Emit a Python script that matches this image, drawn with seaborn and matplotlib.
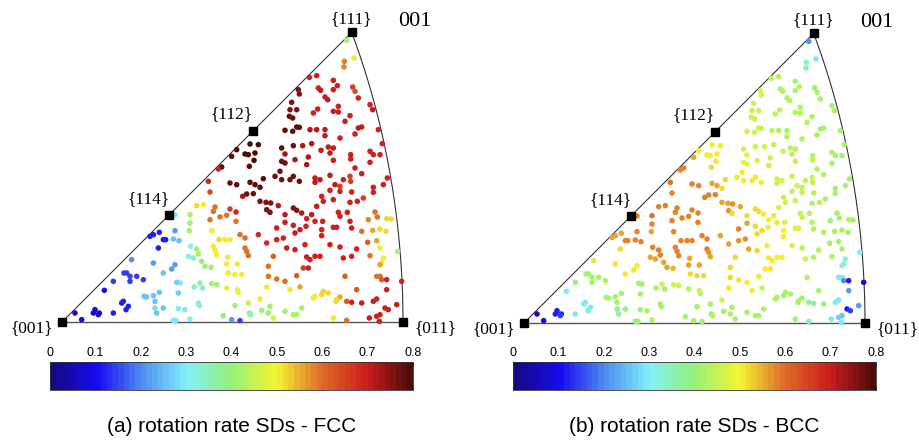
import numpy as np
import matplotlib
matplotlib.use("Agg")
import matplotlib.pyplot as plt
import seaborn as sns

# grain positions (reader units, origin at {001},
# 1023 units = distance {001}-{011}); y counts downwards like the image
ORIGIN_X, ORIGIN_Y, SPAN = 186, 967, 1023

x_read = [
    1040, 1062, 1033, 1032, 950, 928, 1000, 1012, 955, 962,
    1000, 1058, 1065, 895, 898, 975, 1075, 983, 875, 1110,
    1015, 953, 870, 890, 1000, 1118, 940, 1015, 1050, 868,
    878, 1085, 1075, 1035, 890, 898, 855, 878, 930, 950,
    975, 975, 1020, 1065, 1135, 775, 750, 845, 880, 908,
    935, 985, 1000, 1147, 710, 745, 765, 735, 762, 695,
    855, 1110, 1052, 1052, 1120, 1140, 963, 990, 925, 885,
    845, 855, 1000, 920, 1110, 665, 655, 748, 840, 1065,
    1085, 825, 845, 870, 898, 880, 945, 960, 990, 1050,
    1052, 1162, 1030, 625, 690, 710, 750, 765, 790, 780,
    945, 1005, 1020, 1150, 1120, 630, 728, 760, 740, 965,
    990, 1020, 1055, 1120, 1090, 1072, 1050, 970, 1000, 780,
    798, 812, 835, 800, 810, 880, 890, 905, 935, 950,
    1015, 1042, 1125, 1132, 1160, 1173, 855, 590, 610, 645,
    640, 690, 708, 570, 630, 660, 680, 525, 570, 568,
    525, 478, 460, 450, 490, 497, 520, 537, 708, 635,
    775, 800, 830, 855, 880, 900, 885, 918, 920, 945,
    968, 965, 1000, 1010, 1020, 1050, 1055, 1085, 1105, 1118,
    1140, 1158, 850, 830, 860, 885, 915, 965, 990, 1020,
    1070, 1103, 1130, 1140, 1193, 720, 735, 657, 675, 690,
    640, 645, 650, 735, 740, 745, 590, 572, 595, 580,
    565, 605, 615, 633, 475, 395, 460, 525, 515, 490,
    683, 680, 712, 725, 705, 685, 820, 920, 945, 960,
    930, 910, 925, 1030, 1055, 1110, 1150, 1145, 1140, 805,
    805, 830, 855, 890, 1035, 1130, 1140, 1145, 1160, 1205,
    1070, 1160, 1040, 1055, 1085, 1130, 1120, 1190, 1155, 1165,
    1140, 1130, 1108, 1138, 1040, 1000, 1020, 1010, 1008, 985,
    970, 965, 940, 900, 870, 800, 780, 745, 715, 712,
    680, 650, 635, 600, 582, 608, 540, 530, 430, 410,
    380, 390, 372, 340, 390, 313, 478, 460, 440, 432,
    465, 535, 370, 365, 385, 378, 340, 298, 285, 280,
    295, 225, 245, 465, 470, 490, 535, 555, 595, 598,
    570, 520, 528, 695, 720, 670, 705, 748, 752, 785,
    805, 810, 820, 855, 880, 890, 905, 945,
]
y_read = [
    122, 175, 185, 202, 228, 233, 242, 258, 265, 272,
    270, 262, 275, 270, 283, 292, 295, 300, 308, 315,
    320, 328, 330, 330, 335, 330, 340, 337, 348, 350,
    355, 382, 385, 365, 382, 383, 392, 395, 390, 390,
    390, 408, 415, 403, 390, 435, 433, 445, 438, 438,
    432, 442, 445, 432, 450, 465, 460, 463, 482, 470,
    463, 455, 465, 478, 465, 465, 452, 460, 472, 480,
    485, 490, 482, 495, 488, 502, 508, 500, 515, 505,
    522, 530, 540, 540, 545, 530, 535, 540, 527, 530,
    545, 535, 540, 545, 550, 555, 548, 555, 537, 563,
    548, 555, 560, 555, 563, 577, 590, 582, 583, 590,
    572, 575, 577, 578, 595, 605, 608, 605, 600, 605,
    608, 610, 618, 630, 638, 625, 632, 640, 645, 620,
    638, 638, 637, 652, 657, 658, 645, 618, 615, 622,
    635, 628, 637, 645, 660, 652, 647, 646, 670, 693,
    693, 698, 705, 710, 720, 720, 718, 723, 665, 693,
    705, 730, 685, 668, 677, 690, 700, 680, 657, 665,
    665, 690, 683, 683, 650, 665, 685, 695, 660, 692,
    688, 695, 715, 720, 745, 750, 735, 708, 735, 742,
    748, 728, 723, 745, 755, 705, 715, 720, 720, 720,
    740, 752, 765, 745, 755, 768, 748, 740, 763, 775,
    770, 785, 800, 803, 745, 780, 790, 795, 808, 820,
    773, 793, 793, 825, 825, 820, 770, 772, 770, 770,
    780, 805, 805, 775, 770, 768, 775, 790, 795, 800,
    830, 838, 845, 828, 830, 830, 830, 840, 840, 845,
    870, 870, 905, 908, 910, 898, 905, 915, 925, 930,
    945, 950, 955, 965, 962, 955, 892, 900, 905, 880,
    875, 885, 895, 862, 870, 862, 898, 910, 878, 870,
    865, 855, 852, 850, 862, 865, 850, 848, 840, 830,
    820, 830, 820, 845, 845, 872, 878, 888, 892, 890,
    905, 880, 905, 910, 920, 930, 940, 940, 930, 940,
    945, 940, 960, 925, 940, 925, 927, 930, 910, 918,
    958, 962, 962, 960, 963, 948, 918, 940, 945, 932,
    940, 920, 955, 935, 945, 945, 925, 890,
]
fcc_sd = [
    .40, .50, .58, .58, .70, .70, .70, .70, .70, .71,
    .70, .65, .63, .76, .76, .70, .70, .71, .76, .70,
    .70, .70, .76, .76, .71, .71, .70, .70, .70, .77,
    .77, .70, .71, .70, .78, .78, .78, .78, .72, .72,
    .71, .71, .70, .70, .70, .80, .79, .78, .77, .72,
    .72, .71, .71, .70, .79, .79, .79, .79, .79, .78,
    .73, .70, .70, .70, .70, .70, .71, .71, .72, .72,
    .77, .77, .70, .72, .70, .78, .70, .78, .77, .70,
    .70, .77, .77, .77, .77, .77, .71, .71, .71, .65,
    .65, .70, .70, .68, .78, .78, .78, .78, .78, .78,
    .71, .71, .66, .70, .70, .64, .72, .77, .77, .70,
    .70, .70, .70, .70, .66, .70, .70, .70, .70, .76,
    .76, .76, .72, .76, .76, .76, .76, .72, .71, .71,
    .70, .70, .60, .60, .52, .52, .71, .52, .50, .60,
    .60, .65, .68, .42, .60, .60, .60, .30, .40, .42,
    .22, .12, .12, .12, .12, .12, .25, .25, .60, .50,
    .68, .68, .70, .70, .70, .70, .70, .70, .70, .70,
    .70, .70, .70, .70, .70, .70, .70, .60, .58, .55,
    .52, .52, .70, .70, .70, .70, .70, .70, .70, .70,
    .70, .62, .55, .50, .42, .60, .60, .52, .50, .50,
    .50, .50, .50, .60, .60, .60, .42, .32, .42, .35,
    .32, .40, .40, .40, .12, .20, .22, .22, .22, .25,
    .50, .50, .50, .50, .50, .50, .62, .70, .70, .70,
    .70, .65, .70, .70, .70, .60, .50, .50, .55, .60,
    .60, .60, .60, .62, .62, .60, .60, .62, .70, .70,
    .62, .70, .62, .70, .70, .70, .70, .70, .70, .70,
    .70, .70, .70, .70, .60, .50, .55, .52, .52, .52,
    .52, .52, .50, .55, .50, .50, .50, .45, .48, .48,
    .48, .42, .42, .35, .35, .35, .30, .27, .15, .15,
    .15, .15, .15, .15, .15, .10, .25, .25, .25, .25,
    .25, .27, .12, .12, .12, .12, .12, .10, .08, .08,
    .08, .08, .08, .28, .25, .25, .30, .30, .33, .33,
    .32, .30, .30, .22, .15, .40, .40, .36, .36, .40,
    .40, .40, .45, .42, .42, .42, .42, .50,
]
bcc_sd = [
    .20, .30, .34, .36, .43, .44, .42, .43, .42, .43,
    .42, .41, .42, .46, .45, .43, .42, .43, .46, .42,
    .43, .44, .46, .45, .43, .42, .44, .43, .42, .46,
    .46, .42, .42, .43, .45, .45, .46, .46, .44, .43,
    .43, .43, .43, .42, .42, .50, .51, .46, .45, .45,
    .44, .44, .43, .42, .51, .51, .50, .51, .51, .55,
    .47, .43, .44, .44, .42, .42, .45, .44, .46, .47,
    .48, .48, .44, .46, .42, .58, .58, .52, .50, .43,
    .43, .51, .51, .50, .50, .50, .46, .46, .45, .44,
    .44, .42, .44, .60, .58, .58, .55, .55, .52, .52,
    .46, .45, .44, .42, .42, .58, .58, .58, .58, .45,
    .44, .44, .43, .42, .42, .43, .43, .45, .44, .55,
    .56, .57, .55, .57, .52, .52, .52, .51, .50, .47,
    .44, .43, .42, .42, .42, .42, .52, .58, .58, .58,
    .58, .58, .58, .60, .58, .58, .58, .58, .58, .55,
    .58, .55, .55, .55, .58, .58, .58, .58, .58, .58,
    .55, .55, .58, .55, .52, .52, .52, .51, .51, .50,
    .47, .50, .47, .47, .46, .43, .43, .43, .42, .42,
    .42, .42, .57, .57, .55, .52, .51, .50, .47, .44,
    .43, .42, .42, .42, .32, .58, .58, .58, .58, .58,
    .58, .58, .58, .58, .57, .55, .58, .58, .58, .56,
    .56, .55, .55, .54, .52, .46, .50, .51, .51, .51,
    .55, .55, .55, .52, .52, .52, .52, .51, .48, .50,
    .51, .51, .51, .46, .43, .42, .33, .33, .33, .52,
    .52, .51, .50, .51, .43, .30, .30, .20, .12, .08,
    .42, .22, .37, .37, .40, .30, .30, .22, .12, .15,
    .25, .27, .30, .30, .35, .40, .42, .42, .42, .42,
    .42, .42, .43, .46, .50, .50, .45, .42, .42, .45,
    .43, .46, .46, .46, .42, .42, .42, .42, .42, .42,
    .42, .42, .42, .40, .42, .30, .42, .42, .42, .42,
    .42, .42, .30, .30, .30, .30, .30, .12, .12, .12,
    .15, .05, .08, .38, .37, .40, .42, .42, .42, .42,
    .42, .40, .40, .42, .40, .42, .42, .42, .42, .42,
    .42, .42, .42, .42, .42, .42, .42, .43,
]

poles = ["{001}", "{011}", "{111}", "{112}", "{114}"]
pole_hkl = [(0, 0, 1), (0, 1, 1), (1, 1, 1), (1, 1, 2), (1, 1, 4)]
# label offsets in pixels relative to the pole marker
pole_offset = [(-30, -6), (32, -6), (0, 13), (-21, 17), (-20, 16)]

cbar_ticks = [0, 0.1, 0.2, 0.3, 0.4, 0.5, 0.6, 0.7, 0.8]
captions = ["(a) rotation rate SDs - FCC", "(b) rotation rate SDs - BCC"]

# colour scale as it appears on the reference colour bar (a soft jet)
scale_stops = [0.0, 0.1, 0.2, 0.3, 0.4, 0.5, 0.6, 0.7, 0.8]
scale_colors = ["#140a82", "#190af0", "#508cf0", "#82f0fa", "#96f078",
                "#f5f532", "#dc6e28", "#cd1e1e", "#500a0a"]


def equal_area(vert, horiz, z):
    v = np.array([vert, horiz, z], dtype=float)
    v = v / np.linalg.norm(v, axis=0)
    theta = np.arccos(v[2])
    r = 2 * np.sin(theta / 2)
    phi = np.arctan2(v[0], v[1])
    return r * np.cos(phi), r * np.sin(phi)


R011 = equal_area(0, 1, 1)[0]
px_per_unit = 341 / R011

pts_x = (np.array(x_read) - ORIGIN_X) / SPAN * R011
pts_y = (ORIGIN_Y - np.array(y_read)) / SPAN * R011

cmap = matplotlib.colors.LinearSegmentedColormap.from_list(
    "soft_jet", list(zip(np.array(scale_stops) / 0.8, scale_colors)), N=64)
norm = matplotlib.colors.Normalize(0, 0.8)

sns.set_style("white")
plt.rcParams["text.color"] = "black"
plt.rcParams["xtick.color"] = "black"

W, H = 919, 442
fig = plt.figure(figsize=(W / 100, H / 100), dpi=100)


def rect(left, top, width, height):
    return [left / W, 1 - (top + height) / H, width / W, height / H]


panels = [
    dict(box=(0, 0, 460, 340), origin=(62, 322), vals=fcc_sd,
         cbar=(50, 362, 363, 28), cap_x=232),
    dict(box=(462, 0, 457, 340), origin=(524, 323), vals=bcc_sd,
         cbar=(513, 362, 363, 28), cap_x=694),
]

t = np.linspace(0, 1, 200)
arc_x, arc_y = equal_area(t, np.ones_like(t), np.ones_like(t))
pole_xy = [equal_area(h, k, l) for h, k, l in pole_hkl]

for p, cap in zip(panels, captions):
    l, tp, w, h = p["box"]
    ox, oy = p["origin"]
    ax = fig.add_axes(rect(l, tp, w, h))
    ax.set_xlim(-(ox - l) / px_per_unit, (l + w - ox) / px_per_unit)
    ax.set_ylim(-(tp + h - oy) / px_per_unit, (oy - tp) / px_per_unit)
    ax.axis("off")

    x111, y111 = pole_xy[2]
    ax.plot([0, R011], [0, 0], color="#555555", lw=1.0, zorder=1)
    ax.plot([0, x111], [0, y111], color="#333333", lw=0.8, zorder=1)
    ax.plot(arc_x, arc_y, color="#333333", lw=0.8, zorder=1)

    sns.scatterplot(x=pts_x, y=pts_y, hue=p["vals"], palette=cmap,
                    hue_norm=(0, 0.8), s=16, linewidth=0, legend=False,
                    ax=ax, zorder=2)

    for name, (px, py), off in zip(poles, pole_xy, pole_offset):
        ax.plot(px, py, marker="s", ms=6, color="black", ls="none", zorder=3)
        ax.annotate(name, (px, py), xytext=off, textcoords="offset pixels",
                    ha="center", va="center", fontsize=12.5,
                    family="Liberation Serif", color="black")
    ax.annotate("001", (x111, y111), xytext=(63, 11), textcoords="offset pixels",
                ha="center", va="center", fontsize=16, family="Liberation Serif",
                color="black")

    cax = fig.add_axes(rect(*p["cbar"]))
    sm = matplotlib.cm.ScalarMappable(norm=norm, cmap=cmap)
    cb = fig.colorbar(sm, cax=cax, orientation="horizontal", ticks=cbar_ticks)
    cb.set_ticklabels([f"{v:g}" for v in cbar_ticks])
    cax.tick_params(direction="in", top=True, bottom=True, labeltop=True,
                    labelbottom=False, length=3, width=0.6, labelsize=9, pad=2,
                    colors="black")
    for lab in cax.get_xticklabels():
        lab.set_family("Liberation Sans")
    cb.outline.set_linewidth(0.6)
    cb.outline.set_edgecolor("#333333")

    fig.text(p["cap_x"] / W, 1 - 427 / H, cap, ha="center", va="center",
             fontsize=15, family="Liberation Sans", color="black")

fig.savefig("out.png", dpi=100)
